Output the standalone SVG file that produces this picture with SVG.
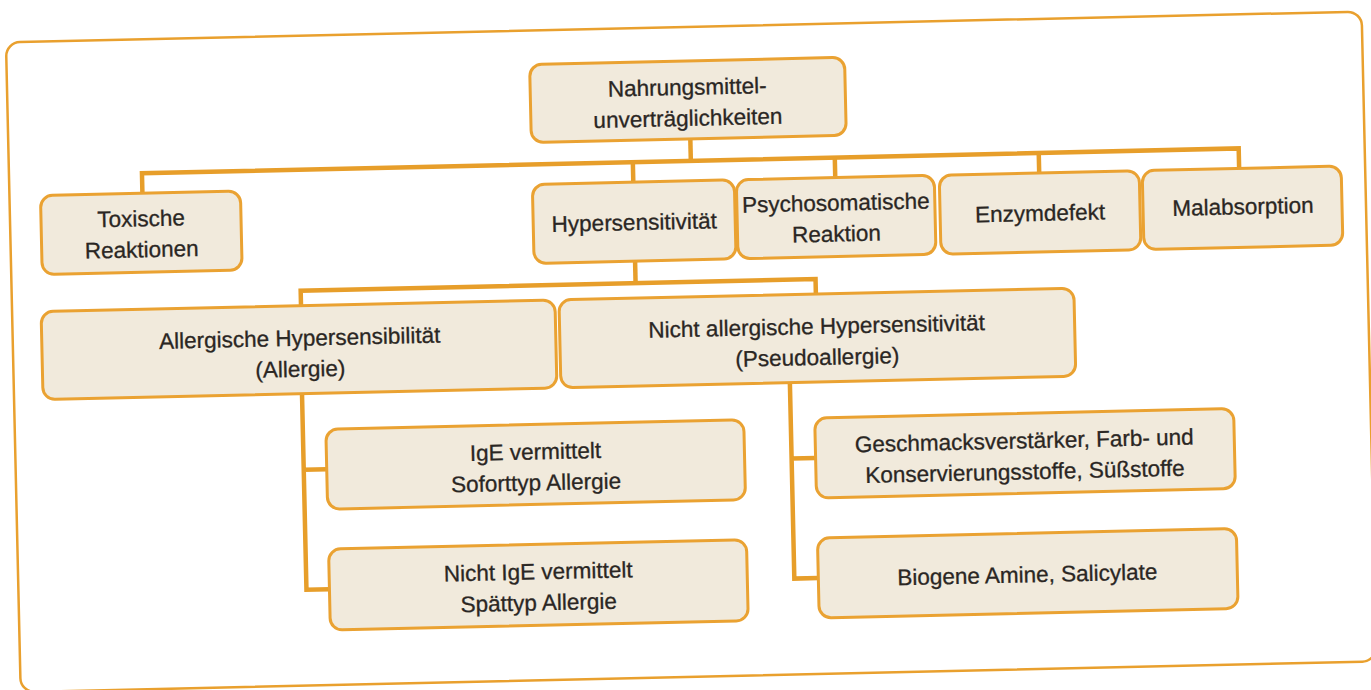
<svg xmlns="http://www.w3.org/2000/svg" width="1371" height="690" viewBox="0 0 1371 690">
<style>
.box{fill:#F1EADC;stroke:#EAA232;stroke-width:3}
.con{fill:none;stroke:#E79E2A;stroke-width:4.5;stroke-linejoin:miter}
.frame{fill:none;stroke:#E9A02E;stroke-width:2.5}
text{font-family:"Liberation Sans",Arial,sans-serif;font-size:22.5px;fill:#2A2623;stroke:#2A2623;stroke-width:0.3;text-anchor:middle}
</style>
<rect width="1371" height="690" fill="#FFFFFF"/>
<g transform="rotate(-1.3 685 345)">
<rect class="frame" x="13" y="27" width="1356" height="650" rx="14"/>
<g id="connectors">
<path class="con" d="M695,139 V161"/>
<path class="con" d="M146,181 V161 H1243 V181"/>
<path class="con" d="M637,161 V181 M839,161 V181 M1043,161 V181"/>
<path class="con" d="M637,260 V282"/>
<path class="con" d="M302,297 V282 H817 V297"/>
<path class="con" d="M301,385 V581 H324 M301,461 H324"/>
<path class="con" d="M789,385 V581 H813 M789,461 H813"/>
</g>
<g id="root"><rect class="box" x="536" y="61" width="315" height="78" rx="12"/><text x="693" y="95">Nahrungsmittel-</text><text x="693" y="126">unverträglichkeiten</text></g>
<g id="toxisch"><rect class="box" x="44" y="181" width="200" height="79" rx="12"/><text x="144" y="214">Toxische</text><text x="144" y="245">Reaktionen</text></g>
<g id="hyper"><rect class="box" x="536" y="181" width="202" height="79" rx="12"/><text x="637" y="229">Hypersensitivität</text></g>
<g id="psycho"><rect class="box" x="740" y="181" width="198" height="79" rx="12"/><text x="839" y="214">Psychosomatische</text><text x="839" y="245">Reaktion</text></g>
<g id="enzym"><rect class="box" x="943" y="181" width="200" height="79" rx="12"/><text x="1043" y="229">Enzymdefekt</text></g>
<g id="malab"><rect class="box" x="1146" y="181" width="199" height="79" rx="12"/><text x="1246" y="227">Malabsorption</text></g>
<g id="allergie"><rect class="box" x="42" y="297" width="514" height="88" rx="12"/><text x="300" y="337">Allergische Hypersensibilität</text><text x="300" y="368">(Allergie)</text></g>
<g id="pseudo"><rect class="box" x="560" y="297" width="515" height="88" rx="12"/><text x="817" y="337">Nicht allergische Hypersensitivität</text><text x="817" y="368">(Pseudoallergie)</text></g>
<g id="ige"><rect class="box" x="324" y="421" width="418" height="80" rx="12"/><text x="533" y="456">IgE vermittelt</text><text x="533" y="487">Soforttyp Allergie</text></g>
<g id="nige"><rect class="box" x="324" y="541" width="418" height="81" rx="12"/><text x="533" y="576">Nicht IgE vermittelt</text><text x="533" y="607">Spättyp Allergie</text></g>
<g id="zusatz"><rect class="box" x="813" y="421" width="419" height="80" rx="12"/><text x="1022" y="456">Geschmacksverstärker, Farb- und</text><text x="1022" y="487">Konservierungsstoffe, Süßstoffe</text></g>
<g id="amine"><rect class="box" x="813" y="541" width="419" height="80" rx="12"/><text x="1022" y="590">Biogene Amine, Salicylate</text></g>
</g>
</svg>
